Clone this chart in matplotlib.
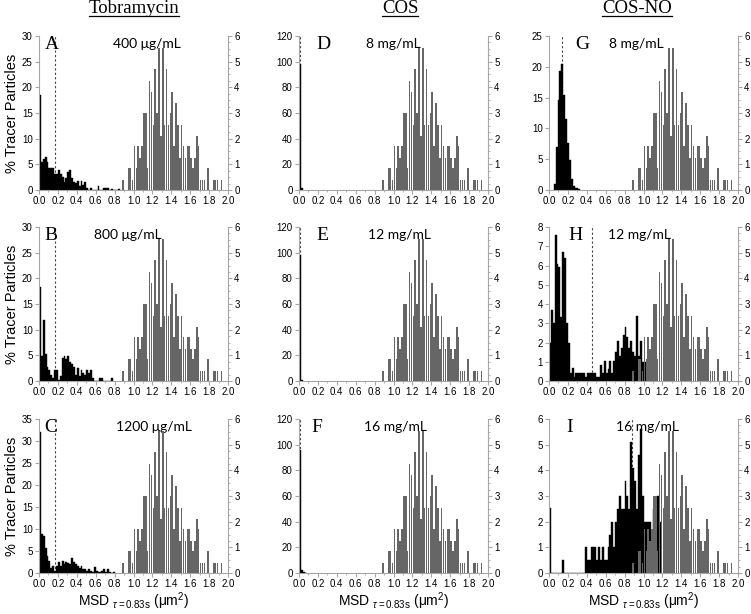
import numpy as np
import matplotlib
matplotlib.use("Agg")
import matplotlib.pyplot as plt
from matplotlib.ticker import MultipleLocator, FormatStrFormatter
from matplotlib.lines import Line2D

plt.rcParams['font.family'] = ['Liberation Sans', 'DejaVu Sans']
plt.rcParams['mathtext.fontset'] = 'custom'
plt.rcParams['mathtext.rm'] = 'Liberation Sans'
plt.rcParams['mathtext.it'] = 'Liberation Sans:italic'

BIN = 0.02  # histogram bin width (um^2)

# ---------------------------------------------
# Data (% tracer particles per bin)

# control distribution, gray bars on the right axis, bins start at 0.88
gray_start = 0.88
gray_pct = [0.4, 0, 0, 0.85, 0.85, 0.4, 1.7, 0.85, 1.7, 1.25, 1.7, 3.0, 3.0, 0.85,
            4.25, 3.8, 2.55, 4.7, 3.0, 5.55, 2.1, 5.55, 2.55, 4.7, 2.55, 3.0, 3.8,
            1.7, 3.4, 2.55, 1.25, 2.55, 1.7, 1.25, 1.7, 1.7, 1.25, 0.85, 1.25, 2.1,
            1.7, 0.4, 0.4, 0.4, 0, 0.85, 0, 0, 0.4, 0.4, 0.4, 0, 0.4]

# treated distributions, black bars on the left axis
tobra_400 = [18.6, 5.5, 6.0, 6.5, 5.5, 4.3, 4.3, 4.3, 3.2, 3.2, 3.8, 3.2, 2.6, 1.5,
             2.3, 3.6, 3.8, 2.3, 1.5, 1.4, 1.8, 0.8, 1.7, 1.0, 1.5, 0.3, 0, 0.4, 0,
             0, 0, 0.8, 0, 0, 0.3, 0.3, 0.3, 0, 0.2, 0, 0, 0, 0.2]
tobra_800 = [18.3, 4.8, 11.9, 5.3, 2.8, 2.1, 1.2, 0.5, 2.1, 2.1, 0.2, 1.0, 4.4, 4.8,
             4.2, 4.8, 3.7, 3.4, 2.8, 1.2, 2.5, 1.0, 2.1, 1.6, 1.2, 2.1, 1.6, 2.1,
             0.5, 0, 0, 0, 0.5, 0.5, 0, 0, 0, 0, 0.5]
tobra_1200 = [32, 8.9, 8.3, 5.7, 3.8, 2.7, 1.2, 1.5, 0.5, 1.5, 2.5, 1.5, 2.7, 2.0,
              2.5, 2.3, 2.0, 3.3, 2.5, 2.0, 1.5, 1.2, 1.5, 1.0, 0.8, 0.5, 0.8, 0.5,
              0.3, 1.3, 0.5, 0.3, 0.3, 0.5, 0.8, 0.3, 0.8, 0.3, 0, 0.2]
cos_8 = [98, 1.5]
cos_12 = [98, 1.0]
cos_16 = [96, 2.0, 0.5, 0.3]
cosno_8_start = 0.05
cosno_8 = [1.0, 7.0, 14.6, 19.3, 20.4, 15.4, 11.6, 7.6, 4.9, 1.8, 0.6, 0.4, 0.4, 0.2]
cosno_12 = [2.0, 3.7, 3.0, 7.6, 6.1, 5.9, 3.3, 6.7, 6.4, 3.0, 2.0, 0.4, 0.7, 0.2,
            0.4, 0.4, 0.4, 0.4, 0.4, 0.2, 0.4, 0.4, 0.4, 0.4, 0.4, 0.2, 0.2, 0.85,
            0.4, 1.05, 0.4, 0.6, 1.05, 0.4, 1.05, 1.5, 2.1, 1.3, 1.7, 2.4, 2.8, 2.3,
            1.7, 2.1, 1.5, 1.3, 3.4, 1.3, 2.1, 1.0, 0.6, 1.0]
cosno_16 = [2.55, 0, 0, 0, 0, 0, 0, 0.5, 0, 0, 0, 0, 0, 0, 0, 0, 0, 0, 0, 1.0, 0.5,
            0.5, 1.0, 1.0, 1.0, 0.5, 1.0, 0.5, 1.0, 0.5, 0.5, 1.0, 1.5, 2.0, 1.0,
            2.0, 2.5, 3.0, 2.5, 2.5, 3.6, 3.0, 2.5, 5.1, 4.1, 3.6, 2.5, 4.6, 5.6,
            3.0, 2.0, 2.0, 2.0, 2.0, 1.5, 2.5, 1.0, 3.0, 2.0]

column_titles = ["Tobramycin", "COS", "COS-NO"]
panel_letters = [["A", "B", "C"], ["D", "E", "F"], ["G", "H", "I"]]
conc_labels = [["400 μg/mL", "800 μg/mL", "1200 μg/mL"],
               ["8 mg/mL", "12 mg/mL", "16 mg/mL"],
               ["8 mg/mL", "12 mg/mL", "16 mg/mL"]]
black_series = [[tobra_400, tobra_800, tobra_1200],
                [cos_8, cos_12, cos_16],
                [cosno_8, cosno_12, cosno_16]]
black_starts = [[0.0, 0.0, 0.0], [0.0, 0.0, 0.0], [cosno_8_start, 0.0, 0.0]]
left_ymax = [[30, 30, 35], [120, 120, 120], [25, 8, 6]]
left_ystep = [[5, 5, 5], [20, 20, 20], [5, 1, 1]]
threshold_x = [[0.17, 0.17, 0.165], [0.01, 0.01, 0.01], [0.135, 0.46, 0.88]]

# ---------------------------------------------
# Layout (pixels in a 751x614 figure)
W, H = 751, 614
col_left = [39, 299, 549]
ax_w = 189
row_top = [36, 227, 419]
ax_h = 154
letter_x = [[0.03, 0.03, 0.03], [0.09, 0.09, 0.065], [0.14, 0.105, 0.09]]
conc_x = [[0.57, 0.47, 0.61], [0.50, 0.53, 0.51], [0.46, 0.48, 0.52]]
title_x = [134, 400, 637]
spine_col = '#a6a6a6'
gray_col = '#666666'

fig = plt.figure(figsize=(W / 100, H / 100), dpi=100)

for c in range(3):
    for r in range(3):
        x0 = col_left[c] / W
        y0 = 1 - (row_top[r] + ax_h) / H
        ax = fig.add_axes([x0, y0, ax_w / W, ax_h / H])
        vals = black_series[c][r]
        xs = black_starts[c][r] + BIN * np.arange(len(vals))
        ax.bar(xs, vals, width=BIN, align='edge', color='black',
               edgecolor='black', linewidth=0.3)
        ax.set_xlim(0, 2.0)
        ax.set_ylim(0, left_ymax[c][r])
        ax.axvline(threshold_x[c][r], color='#444444', lw=0.8,
                   linestyle=(0, (2, 2)), zorder=0)
        for s in ['top', 'right']:
            ax.spines[s].set_visible(False)
        for s in ['left', 'bottom']:
            ax.spines[s].set_color(spine_col)
        ax.xaxis.set_major_locator(MultipleLocator(0.2))
        ax.xaxis.set_minor_locator(MultipleLocator(0.1))
        ax.xaxis.set_major_formatter(FormatStrFormatter('%.1f'))
        ax.yaxis.set_major_locator(MultipleLocator(left_ystep[c][r]))
        ax.tick_params(axis='both', which='both', direction='out', color=spine_col,
                       labelsize=7, pad=1.5)
        ax.tick_params(which='major', length=3)
        ax.tick_params(which='minor', length=1.5)
        ax.tick_params(axis='y', which='minor', left=False)

        # control distribution on the right axis (drawn on top)
        ax2 = ax.twinx()
        gx = gray_start + BIN * np.arange(len(gray_pct)) + BIN * 0.1
        ax2.bar(gx, gray_pct, width=BIN * 0.8, align='edge', color=gray_col,
                linewidth=0)
        ax2.set_ylim(0, 6)
        ax2.set_xlim(0, 2.0)
        for s in ['top', 'left', 'bottom']:
            ax2.spines[s].set_visible(False)
        ax2.spines['right'].set_color(spine_col)
        ax2.yaxis.set_major_locator(MultipleLocator(1))
        ax2.yaxis.set_minor_locator(MultipleLocator(0.25))
        ax2.tick_params(axis='y', which='both', direction='out', color=spine_col,
                        labelsize=7, pad=1.5)
        ax2.tick_params(which='major', length=3)
        ax2.tick_params(which='minor', length=1.5)

        ax.text(letter_x[c][r], 1.0, panel_letters[c][r], transform=ax.transAxes,
                family='Liberation Serif', fontsize=14, ha='left', va='top')
        ax.text(conc_x[c][r], 0.985, conc_labels[c][r], transform=ax.transAxes,
                family='Lato', fontsize=10, ha='center', va='top', zorder=5)

        if c == 0:
            ax.set_ylabel('% Tracer Particles', fontsize=10.5, labelpad=2)
        if r == 2:
            ax.set_xlabel(r'MSD $_{\tau\mathregular{=0.83s}}$ (μm$^{\mathregular{2}}$)',
                          fontsize=10, labelpad=1)

# underlined column titles
fig.canvas.draw()
renderer = fig.canvas.get_renderer()
for c, title in enumerate(column_titles):
    t = fig.text(title_x[c] / W, 1 - 13 / H, title, family='Liberation Serif',
                 fontsize=13.5, ha='center', va='baseline')
    bb = t.get_window_extent(renderer=renderer)
    (fx0, _), (fx1, _) = fig.transFigure.inverted().transform(
        [[bb.x0, bb.y0], [bb.x1, bb.y0]])
    yline = 1 - 15.5 / H
    fig.add_artist(Line2D([fx0, fx1], [yline, yline], color='black', lw=0.9,
                          transform=fig.transFigure))

fig.savefig('out.png', dpi=100)
